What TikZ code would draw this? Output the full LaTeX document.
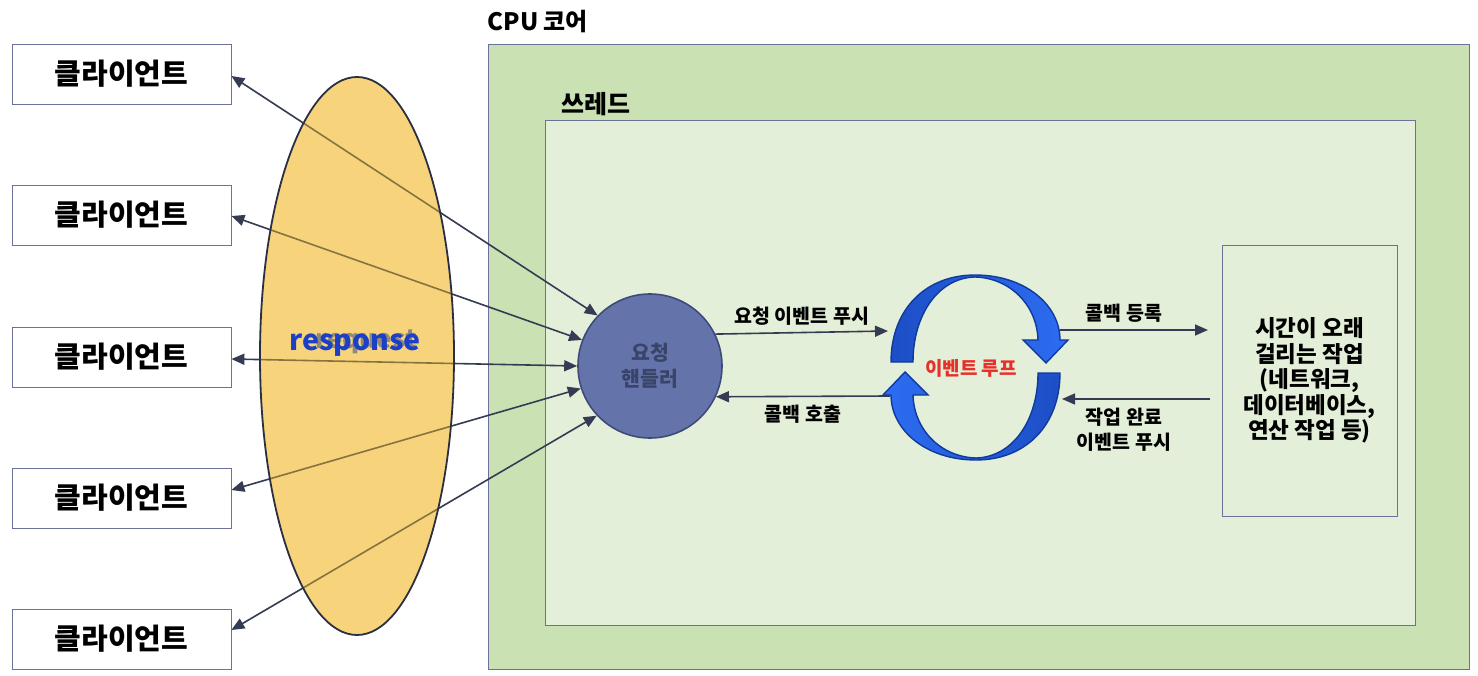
\documentclass[tikz,border=0pt]{standalone}
\usepackage{fontspec}
\setmainfont{Noto Sans CJK KR}
\usetikzlibrary{arrows.meta,shapes.geometric}
\definecolor{arr}{HTML}{343B52}
\definecolor{olive}{HTML}{86733F}
\definecolor{bordr}{HTML}{6B7199}
\definecolor{cpu}{HTML}{CAE2B3}
\definecolor{thr}{HTML}{E3EFD8}
\definecolor{ellf}{HTML}{F7D47C}
\definecolor{hfill}{HTML}{6474AA}
\definecolor{hdraw}{HTML}{3E4B7A}
\definecolor{htext}{HTML}{3A4468}
\definecolor{blueA}{HTML}{1D4EC5}
\definecolor{blueB}{HTML}{2D6DF2}
\definecolor{blueD}{HTML}{0F3A9E}
\definecolor{loopred}{HTML}{E8302A}
\definecolor{resp}{HTML}{1B3FC6}
\definecolor{ghost}{HTML}{8F8A78}
\tikzset{
  client/.style={draw=bordr,line width=0.8pt,fill=white,minimum width=219pt,minimum height=60pt,inner sep=0pt,font=\fontsize{29}{34}\selectfont\bfseries},
  conn/.style={draw=arr,line width=1.6pt,arrows={Triangle[length=13pt,width=11pt]-Triangle[length=13pt,width=11pt]}},
  flow/.style={draw=arr,line width=1.6pt,-{Triangle[length=13pt,width=11pt]}},
  lbl/.style={font=\fontsize{19.5}{24}\selectfont\bfseries,align=center},
  inner/.style={draw=olive,line width=1.6pt}
}
\begin{document}
\begin{tikzpicture}[x=1pt,y=-1pt]
\useasboundingbox[fill=white] (0,0) rectangle (1478,676);
% containers
\node[draw=bordr,fill=cpu,line width=0.8pt,minimum width=981pt,minimum height=625pt,inner sep=0pt,anchor=north west] (cpu) at (488,44) {};
\node[anchor=west,font=\fontsize{24}{28}\selectfont\bfseries] (cpul) at (484,22) {CPU 코어};
\node[draw=bordr,fill=thr,line width=0.8pt,minimum width=870pt,minimum height=505pt,inner sep=0pt,anchor=north west] (thr) at (545,120) {};
\node[anchor=west,font=\fontsize{25}{28}\selectfont\bfseries] (thrl) at (558,104) {쓰레드};
% clients
\node[client] (c1) at (121.5,74) {클라이언트};
\node[client] (c2) at (121.5,215) {클라이언트};
\node[client] (c3) at (121.5,357) {클라이언트};
\node[client] (c4) at (121.5,498) {클라이언트};
\node[client] (c5) at (121.5,639) {클라이언트};
% handler
\node[circle,draw=hdraw,fill=hfill,line width=1.6pt,minimum size=144pt,inner sep=0pt,align=center,text=htext,font=\fontsize{20.5}{26}\selectfont\bfseries] (h) at (650,366) {요청\\핸들러};
% task
\node[draw=bordr,fill=thr,line width=0.8pt,minimum width=175pt,minimum height=271pt,inner sep=0pt,align=center,font=\fontsize{22.5}{25.5}\selectfont\bfseries] (t) at (1309.5,380.5) {시간이 오래\\걸리는 작업\\(네트워크,\\데이터베이스,\\연산 작업 등)};
% ellipse
\node[ellipse,minimum width=194pt,minimum height=558pt,inner sep=0pt] (ell) at (357,356) {};
% client connectors
\coordinate (p1) at ([yshift=-2pt]c1.east);
\coordinate (p2) at ([yshift=-1pt]c2.east);
\coordinate (p3) at ([yshift=-2pt]c3.east);
\coordinate (p4) at ([yshift=8pt]c4.east);
\coordinate (p5) at ([yshift=9pt]c5.east);
\draw[conn] (p1) -- (h.136);
\draw[conn] (p2) -- (h.159);
\draw[conn] (p3) -- (h.180);
\draw[conn] (p4) -- (h.198);
\draw[conn] (p5) -- (h.223);
\fill[ellf] (ell.center) ellipse [x radius=97, y radius=279];
\begin{scope}
\clip (ell.center) ellipse [x radius=97, y radius=279];
\draw[inner] (p1) -- (h.136);
\draw[inner] (p2) -- (h.159);
\draw[inner] (p3) -- (h.180);
\draw[inner] (p4) -- (h.198);
\draw[inner] (p5) -- (h.223);
\end{scope}
\draw[arr!80!black,line width=1.8pt] (ell.center) ellipse [x radius=97, y radius=279];
\node[text=ghost,font=\fontsize{26}{30}\selectfont\bfseries] (req) at (366,342) {request};
\node[text=resp,font=\fontsize{28.5}{32}\selectfont\bfseries] (rsp) at (355,345) {response};
% event loop
\path[draw=blueD,line width=1.4pt,left color=blueA,right color=blueB]
 (891,362) .. controls (891,310) and (925,275) .. (975,275)
 .. controls (1025,275) and (1060,305) .. (1060,340)
 -- (1068,340) -- (1046,363) -- (1023,340) -- (1038,340)
 .. controls (1037,305) and (1010,278) .. (975,277)
 .. controls (938,278) and (913,315) .. (913,362) -- cycle;
\path[draw=blueD,line width=1.4pt,left color=blueB,right color=blueA]
 (1060,373) .. controls (1060,425) and (1026,460) .. (976,460)
 .. controls (926,460) and (891,430) .. (891,395)
 -- (883,395) -- (905,372) -- (928,395) -- (913,395)
 .. controls (914,430) and (941,457) .. (976,458)
 .. controls (1013,457) and (1038,420) .. (1038,373) -- cycle;
\node[text=loopred,font=\fontsize{19}{22}\selectfont\bfseries] (loop) at (971,368) {이벤트 루프};
% flows
\coordinate (elA) at (888,331);
\coordinate (elB) at (890,396);
\coordinate (elC) at (1060,330);
\coordinate (elD) at (1062,399);
\coordinate (tA) at (1208,330);
\coordinate (tB) at (1210,399);
\draw[flow] (h.26) -- node[lbl,above=3pt] {요청 이벤트 푸시} (elA);
\draw[flow] (elB) -- node[lbl,below=5pt] {콜백 호출} (h.-25);
\draw[flow] (elC) -- node[lbl,above=3pt,xshift=-10pt] {콜백 등록} (tA);
\draw[flow] (tB) -- node[lbl,below=5pt,font=\fontsize{19.5}{25}\selectfont\bfseries,xshift=-12pt] {작업 완료\\이벤트 푸시} (elD);
\end{tikzpicture}
\end{document}
